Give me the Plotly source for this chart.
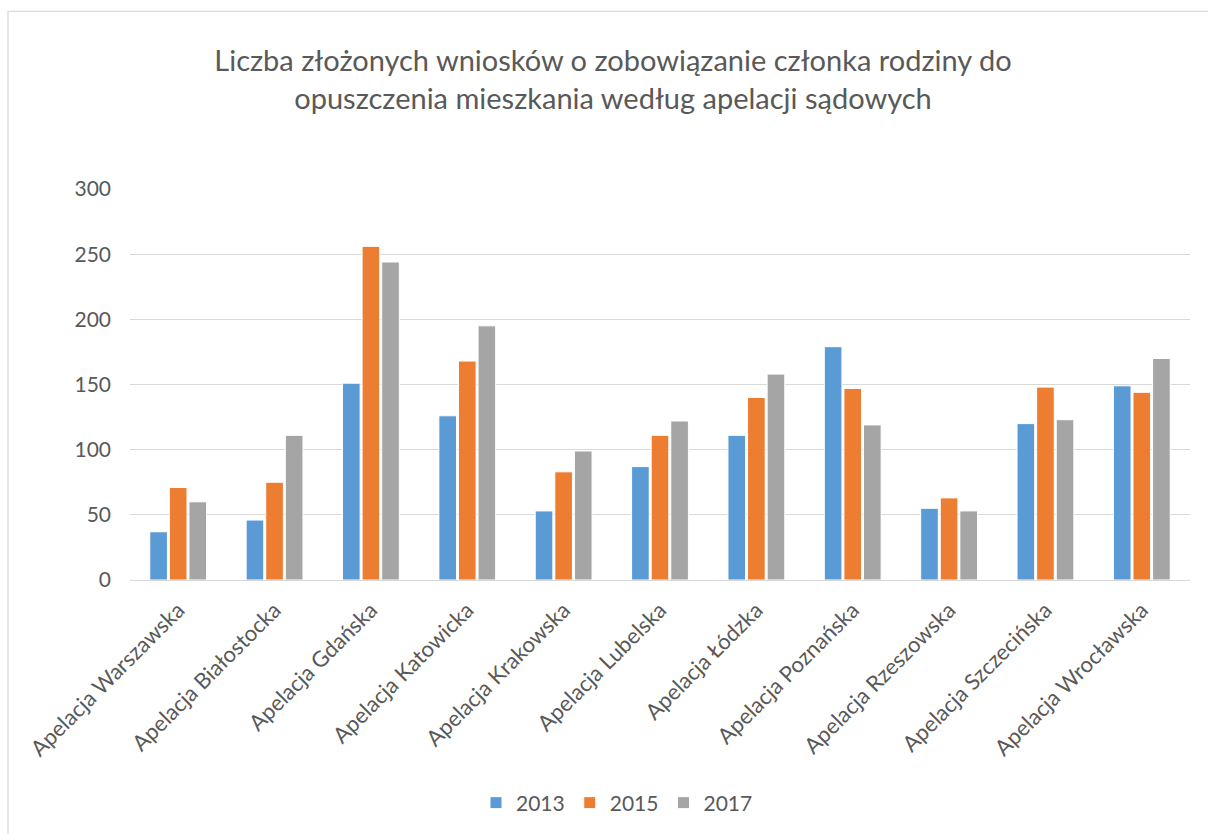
import plotly.graph_objects as go

categories = ["Apelacja Warszawska", "Apelacja Białostocka", "Apelacja Gdańska",
              "Apelacja Katowicka", "Apelacja Krakowska", "Apelacja Lubelska",
              "Apelacja Łódzka", "Apelacja Poznańska", "Apelacja Rzeszowska",
              "Apelacja Szczecińska", "Apelacja Wrocławska"]
v2013 = [37, 46, 151, 126, 53, 87, 111, 179, 55, 120, 149]
v2015 = [71, 75, 256, 168, 83, 111, 140, 147, 63, 148, 144]
v2017 = [60, 111, 244, 195, 99, 122, 158, 119, 53, 123, 170]
series_names = ["2013", "2015", "2017"]
colors = ["#5b9bd5", "#ed7d31", "#a5a5a5"]
yticks = [0, 50, 100, 150, 200, 250, 300]

FONT = "Lato"
TXT = "#595959"

fig = go.Figure()
for name, vals, col in zip(series_names, [v2013, v2015, v2017], colors):
    fig.add_trace(go.Bar(x=categories, y=vals, name=name,
                         marker=dict(color=col, line=dict(color="white", width=1))))

L, R, T, B = 130, 18, 189, 253
W, H = 1208, 834
pw = W - L - R
ph = H - T - B

def px_x(p):
    return (p - L) / pw

def px_y(p):
    return (H - B - p) / ph

fig.update_layout(
    width=W, height=H,
    margin=dict(l=L, r=R, t=T, b=B),
    paper_bgcolor="white", plot_bgcolor="white",
    font=dict(family=FONT, color=TXT, size=19),
    barmode="group", bargap=0.39, bargroupgap=0.1,
    title=dict(text="Liczba złożonych wniosków o zobowiązanie członka rodziny do<br>opuszczenia mieszkania według apelacji sądowych",
               x=613 / W, xanchor="center", xref="container",
               y=1 - 71 / H, yanchor="middle", yref="container",
               font=dict(family=FONT, size=29, color=TXT)),
    xaxis=dict(tickangle=-45, showgrid=False, showline=False, ticks="",
               ticklabelstandoff=12,
               tickfont=dict(size=22, color=TXT)),
    yaxis=dict(range=[0, 300], tickvals=yticks, showgrid=True, gridcolor="#d9d9d9",
               gridwidth=1.3, zeroline=True, zerolinecolor="#d9d9d9", zerolinewidth=1.3,
               ticks="", ticklabelstandoff=18, tickfont=dict(size=21, color=TXT)),
    legend=dict(orientation="h", x=px_x(617), xanchor="center", y=px_y(803), yanchor="middle",
                font=dict(size=21, color=TXT), itemwidth=30, traceorder="normal"),
    showlegend=True,
    shapes=[dict(type="rect", xref="paper", yref="paper",
                 x0=px_x(8), x1=px_x(1215), y0=px_y(840), y1=px_y(11),
                 line=dict(color="#d9d9d9", width=1.3), fillcolor="rgba(0,0,0,0)", layer="below")],
)

fig.write_html("out.html", config={"displayModeBar": False},
               post_script="document.body.style.margin='0';document.body.style.overflow='hidden';")
